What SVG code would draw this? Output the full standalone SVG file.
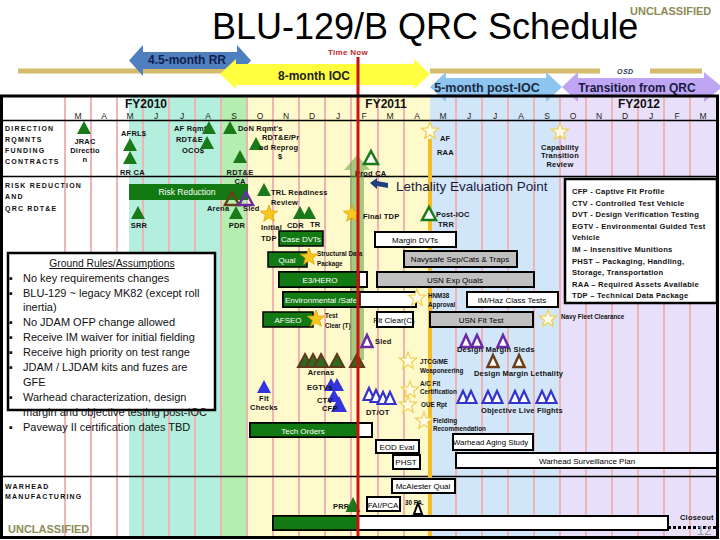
<svg xmlns="http://www.w3.org/2000/svg" width="720" height="540" viewBox="0 0 720 540">
<style>
text{font-family:"Liberation Sans",Arial,sans-serif}
.lb{font-size:7.5px;font-weight:bold;fill:#111;letter-spacing:0.2px}
.tn{font-size:6.3px;font-weight:bold;fill:#111}
.sec{font-size:7px;font-weight:bold;fill:#111;letter-spacing:1.2px}
.mo{font-size:8.5px;fill:#222;text-anchor:middle}
.fy{font-size:12px;font-weight:bold;fill:#111;text-anchor:middle}
.bt{font-size:8px;fill:#000;text-anchor:middle}
.w{fill:#fff}
.bg{fill:#137a13;stroke:#000;stroke-width:1.5}
.bw{fill:#fff;stroke:#000;stroke-width:2}
.bgy{fill:#c0c0c0;stroke:#000;stroke-width:2}
.tg{fill:#1a7a1a}
.to{fill:#fff;stroke:#1a7a1a;stroke-width:2.5}
.tp{fill:none;stroke:#6a2aa8;stroke-width:2.5}
.tpw{fill:#fff;stroke:#6a2aa8;stroke-width:2.5}
.tbn{fill:none;stroke:#6a3e1a;stroke-width:2.5}
.tbr{fill:#fff;stroke:#6a3e1a;stroke-width:2.5}
.tbl{fill:#3434dc}
.tbo{fill:#fff;stroke:#3434cc;stroke-width:2.2}
.ta{fill:#2f6a1f;stroke:#5c3a1a;stroke-width:2}
.sg{fill:#f8c81e;stroke:#e0a000;stroke-width:0.8}
.sw{fill:#fffbe8;stroke:#eed050;stroke-width:1.2}
.gr{font-size:11px;fill:#111}
.lg{font-size:7.6px;font-weight:bold;fill:#111;letter-spacing:0.25px}
.ucl{font-weight:bold;fill:#8c8c55}
</style>
<defs>
<path id="tri" d="M0,0 L7,13 L-7,13 Z"/>
<path id="trn" d="M0,0 L5.5,12 L-5.5,12 Z"/>
<path id="star" d="M0,-9 L2.2,-3.1 L8.6,-2.8 L3.6,1.2 L5.3,7.3 L0,3.8 L-5.3,7.3 L-3.6,1.2 L-8.6,-2.8 L-2.2,-3.1 Z"/>
</defs>

<rect x="0" y="0" width="720" height="540" fill="#fff"/>

<g id="backgrounds">
<rect x="129" y="96" width="93" height="441" fill="#b4eedc"/>
<rect x="222" y="96" width="26" height="441" fill="#b4eeb0"/>
<rect x="248" y="96" width="182" height="441" fill="#fffacb"/>
<rect x="430" y="96" width="130" height="441" fill="#d2e6fa"/>
<rect x="560" y="96" width="157" height="441" fill="#e8e0fa"/>
<path d="M65,96V537M91,96V537M117,96V537M143,96V537M169,96V537M195,96V537M221,96V537M247,96V537M273,96V537M299,96V537M325,96V537M351,96V537M378,96V537M404,96V537M456,96V537M482,96V537M508,96V537M534,96V537M560,96V537M586,96V537M612,96V537M638,96V537M664,96V537M690,96V537" stroke="#f0b4b4" stroke-width="2" fill="none"/>
<path d="M1.5,120.5H717.5M1.5,176.5H717.5M1.5,476.5H717.5" stroke="#000" stroke-width="1.5"/>
</g>

<g id="title">
<text x="212" y="39" font-size="36" fill="#000">BLU-129/B QRC Schedule</text>
<text x="630" y="15" font-size="11" class="ucl">UNCLASSIFIED</text>
<text x="328" y="55" font-size="8" font-weight="bold" fill="#c0282c" letter-spacing="0.3">Time Now</text>
<text x="617" y="74" font-size="7" font-weight="bold" font-style="italic" fill="#2a3a5a" letter-spacing="0.5">OSD</text>
</g>

<g id="connectors">
<path d="M18,71H225M430,71H600M650,71H702" stroke="#d4bc6c" stroke-width="5" fill="none"/>
<polygon points="129,60.5 143,45 143,52 237,52 237,45 251,60.5 237,76 237,69 143,69 143,76" fill="#4f7fbf"/>
<polygon points="220,74 236,59 236,64 414,64 414,59 430,74 414,89 414,85 236,85 236,89" fill="#ffff40"/>
<polygon points="430,87 446,72 446,78 546,78 546,72 562,87 546,102 546,97 446,97 446,102" fill="#8ec4f0"/>
<polygon points="562,87 578,72 578,78 704,78 704,72 722,87 704,102 704,97 578,97 578,102" fill="#bea6f4"/>
<text x="187" y="64" font-size="12" font-weight="bold" fill="#102050" text-anchor="middle">4.5-month RR</text>
<text x="314" y="80" font-size="12" font-weight="bold" fill="#222" text-anchor="middle">8-month IOC</text>
<text x="487" y="92" font-size="12.5" font-weight="bold" fill="#1a2a40" text-anchor="middle">5-month post-IOC</text>
<text x="637" y="92" font-size="12" font-weight="bold" fill="#1a1a40" text-anchor="middle">Transition from QRC</text>
<line x1="430" y1="139" x2="430" y2="537" stroke="#f5be28" stroke-width="4"/>
<polygon points="357,155 370,170 364,170 364,360 350,360 350,170 344,170" fill="#6aa84f" opacity="0.6"/>
<path d="M370,183 L377,178 L377,181 L388,183 L388,188 L377,186 L377,189 Z" fill="#1f3f7f"/>
<path d="M668,527.5H717" stroke="#000" stroke-width="3" stroke-dasharray="3,2"/>
</g>

<g id="header">
<text class="fy" x="146" y="108">FY2010</text>
<text class="fy" x="386" y="108">FY2011</text>
<text class="fy" x="639" y="108">FY2012</text>
<text class="mo" y="119"><tspan x="78">M</tspan><tspan x="104">A</tspan><tspan x="130">M</tspan><tspan x="156">J</tspan><tspan x="182">J</tspan><tspan x="208">A</tspan><tspan x="234">S</tspan><tspan x="260">O</tspan><tspan x="286">N</tspan><tspan x="312">D</tspan><tspan x="338">J</tspan><tspan x="364">F</tspan><tspan x="390">M</tspan><tspan x="417">A</tspan><tspan x="443">M</tspan><tspan x="469">J</tspan><tspan x="495">J</tspan><tspan x="521">A</tspan><tspan x="547">S</tspan><tspan x="573">O</tspan><tspan x="599">N</tspan><tspan x="625">D</tspan><tspan x="651">J</tspan><tspan x="677">F</tspan><tspan x="703">M</tspan></text>
</g>

<g id="row-labels">
<text class="sec" x="5" y="131">DIRECTION</text>
<text class="sec" x="5" y="142">RQMNTS</text>
<text class="sec" x="5" y="153">FUNDING</text>
<text class="sec" x="5" y="164">CONTRACTS</text>
<text class="sec" x="5" y="188">RISK REDUCTION</text>
<text class="sec" x="5" y="199">AND</text>
<text class="sec" x="5" y="211">QRC RDT&amp;E</text>
<text class="sec" x="5" y="489">WARHEAD</text>
<text class="sec" x="5" y="499">MANUFACTURING</text>
</g>

<g id="jrac">
<use href="#tri" x="84" y="121" class="tg"/>
<text class="lb" x="85" y="144" text-anchor="middle">JRAC</text>
<text class="lb" x="85" y="153" text-anchor="middle">Directio</text>
<text class="lb" x="85" y="162" text-anchor="middle">n</text>
</g>
<g id="afrl">
<text class="lb" x="121" y="136">AFRL$</text>
<use href="#tri" x="130" y="138" class="tg"/>
<use href="#tri" x="130" y="151" class="tg"/>
<text class="lb" x="120" y="175">RR CA</text>
</g>
<g id="af-rqmt">
<text class="lb" x="174" y="131">AF Rqmt'</text>
<text class="lb" x="176" y="142">RDT&amp;E</text>
<text class="lb" x="182" y="153">OCO$</text>
<use href="#tri" x="209" y="121" class="tg"/>
<use href="#tri" x="207" y="136" class="tg"/>
<use href="#tri" x="230" y="121" class="tg"/>
</g>
<g id="don-rqmt">
<text class="lb" x="238" y="131">DoN Rqmt's</text>
<use href="#tri" x="256" y="137" class="tg"/>
<text class="lb" x="262" y="140">RDT&amp;E/Pr</text>
<text class="lb" x="259" y="150">od Reprog</text>
<text class="lb" x="278" y="159">$</text>
<use href="#tri" x="240" y="150" class="tg"/>
<text class="lb" x="240" y="175" text-anchor="middle">RDT&amp;E</text>
<text class="lb" x="240" y="184" text-anchor="middle">CA</text>
</g>
<g id="prod-ca">
<use href="#tri" x="371" y="151" class="to"/>
<text class="lb" x="355" y="176">Prod CA</text>
</g>
<g id="af-raa">
<use href="#star" x="430" y="131" class="sw"/>
<text class="lb" x="440" y="141">AF</text>
<text class="lb" x="437" y="155">RAA</text>
</g>
<g id="capability-review">
<use href="#star" x="560" y="132" class="sw"/>
<text class="lb" x="560" y="150" text-anchor="middle">Capability</text>
<text class="lb" x="560" y="158" text-anchor="middle">Transition</text>
<text class="lb" x="560" y="167" text-anchor="middle">Review</text>
</g>

<g id="risk-reduction">
<rect x="129" y="184" width="119" height="16" fill="#137a13"/>
<text x="187" y="195" font-size="8.5" class="w" text-anchor="middle">Risk Reduction</text>
</g>
<g id="arena-sled">
<use href="#tri" x="232" y="192" class="tbn"/>
<use href="#tri" x="246" y="192" class="tp"/>
<text class="lb" x="207" y="211">Arena</text>
<text class="lb" x="243" y="211">Sled</text>
</g>
<g id="pdr">
<use href="#tri" x="236" y="206" class="tg"/>
<text class="lb" x="237" y="228" text-anchor="middle">PDR</text>
</g>
<g id="srr">
<use href="#tri" x="138" y="206" class="tg"/>
<text class="lb" x="139" y="228" text-anchor="middle">SRR</text>
</g>
<g id="trl">
<use href="#tri" x="264" y="183" class="tg"/>
<text class="lb" x="271" y="195">TRL Readiness</text>
<text class="lb" x="271" y="205">Review</text>
</g>
<g id="initial-tdp">
<use href="#star" x="269" y="214" class="sg"/>
<text class="lb" x="261" y="230">Initial</text>
<text class="lb" x="261" y="241">TDP</text>
</g>
<g id="cdr">
<use href="#tri" x="300" y="206" class="tg"/>
<use href="#tri" x="309" y="206" class="tg"/>
<text class="lb" x="287" y="228">CDR</text>
<text class="lb" x="310" y="227">TR</text>
</g>
<g id="final-tdp">
<use href="#star" x="352" y="214" class="sg"/>
<text class="lb" x="363" y="219">Final TDP</text>
</g>
<g id="post-ioc-trr">
<use href="#tri" x="429" y="207" class="to"/>
<text class="lb" x="436" y="217">Post-IOC</text>
<text class="lb" x="438" y="227">TRR</text>
</g>
<g id="lethality">
<text x="396" y="191" font-size="13.5" fill="#1a1a40">Lethality Evaluation Point</text>
</g>

<g id="legend">
<rect x="565" y="179" width="152" height="124" fill="#fff" stroke="#000" stroke-width="2.5"/>
<text class="lg" x="572" y="194">CFP - Captive Flt Profile</text>
<text class="lg" x="572" y="206">CTV - Controlled Test Vehicle</text>
<text class="lg" x="572" y="217">DVT - Design Verification Testing</text>
<text class="lg" x="572" y="229">EGTV - Environmental Guided Test</text>
<text class="lg" x="572" y="240">Vehicle</text>
<text class="lg" x="572" y="252">IM – Insensitive Munitions</text>
<text class="lg" x="572" y="264">PHST – Packaging, Handling,</text>
<text class="lg" x="572" y="275">Storage, Transportation</text>
<text class="lg" x="572" y="287">RAA – Required Assets Available</text>
<text class="lg" x="572" y="298">TDP – Technical Data Package</text>
</g>

<g id="ground-rules">
<rect x="8" y="253" width="207" height="157" fill="#fff" stroke="#000" stroke-width="2.5"/>
<text x="112" y="267" font-size="10.3" fill="#111" text-anchor="middle" text-decoration="underline">Ground Rules/Assumptions</text>
<text class="gr" y="282"><tspan x="9">▪</tspan><tspan x="23">No key requirements changes</tspan></text>
<text class="gr" y="297"><tspan x="9">▪</tspan><tspan x="23">BLU-129 ~ legacy MK82 (except roll</tspan></text>
<text class="gr" x="23" y="311">inertia)</text>
<text class="gr" y="326"><tspan x="9">▪</tspan><tspan x="23">No JDAM OFP change allowed</tspan></text>
<text class="gr" y="341"><tspan x="9">▪</tspan><tspan x="23">Receive IM waiver for initial fielding</tspan></text>
<text class="gr" y="356"><tspan x="9">▪</tspan><tspan x="23">Receive high priority on test range</tspan></text>
<text class="gr" y="371"><tspan x="9">▪</tspan><tspan x="23">JDAM / LJDAM kits and fuzes are</tspan></text>
<text class="gr" x="23" y="386">GFE</text>
<text class="gr" y="401"><tspan x="9">▪</tspan><tspan x="23">Warhead characterization, design</tspan></text>
<text class="gr" x="23" y="416">margin and objective testing post-IOC</text>
<text class="gr" y="431"><tspan x="9">▪</tspan><tspan x="23">Paveway II certification dates TBD</tspan></text>
</g>

<g id="case-dvts">
<rect x="279" y="231" width="44" height="15" class="bg"/>
<text class="bt w" x="301" y="242">Case DVTs</text>
</g>
<g id="margin-dvts">
<rect x="375" y="232" width="81" height="15" class="bw"/>
<text class="bt" x="415" y="243">Margin DVTs</text>
</g>
<g id="qual">
<rect x="268" y="252" width="39" height="15" class="bg"/>
<text class="bt w" x="287" y="263">Qual</text>
<use href="#star" x="309" y="257" class="sg"/>
<text class="tn" x="317" y="256">Structural Data</text>
<text class="tn" x="317" y="266">Package</text>
</g>
<g id="navysafe">
<rect x="404" y="251" width="113" height="16" class="bgy"/>
<text class="bt" x="460" y="262" font-size="7.5">Navysafe Sep/Cats &amp; Traps</text>
</g>
<g id="e3-hero">
<rect x="279" y="272" width="88" height="15" class="bw"/>
<rect x="279" y="272" width="80" height="15" class="bg"/>
<text class="bt w" x="320" y="283">E3/HERO</text>
</g>
<g id="usn-exp-quals">
<rect x="377" y="272" width="157" height="15" class="bgy"/>
<text class="bt" x="455" y="283" font-size="8.5">USN Exp Quals</text>
</g>
<g id="environmental-safe">
<rect x="283" y="292" width="133" height="15" class="bw"/>
<rect x="283" y="292" width="77" height="15" class="bg"/>
<text x="285" y="303" font-size="8" class="w">Environmental /Safe</text>
</g>
<g id="hnm38">
<use href="#star" x="417" y="298" class="sw"/>
<text class="tn" x="428" y="298">HNM38</text>
<text class="tn" x="428" y="307">Approval</text>
</g>
<g id="im-haz">
<rect x="467" y="292" width="91" height="15" class="bw"/>
<text class="bt" x="512" y="303">IM/Haz Class Tests</text>
</g>
<g id="afseo">
<rect x="263" y="312" width="50" height="15" class="bg"/>
<text class="bt w" x="288" y="323">AFSEO</text>
<use href="#star" x="316" y="319" class="sg"/>
<text class="tn" x="325" y="318">Test</text>
<text class="tn" x="325" y="328">Clear (T)</text>
</g>
<g id="flt-clear">
<rect x="377" y="312" width="36" height="15" class="bw"/>
<text class="bt" x="394" y="323">Flt Clear(C)</text>
</g>
<g id="usn-flt-test">
<rect x="430" y="312" width="103" height="15" class="bgy"/>
<text class="bt" x="481" y="323">USN Flt Test</text>
</g>
<g id="navy-fleet-clearance">
<use href="#star" x="548" y="319" class="sw"/>
<text class="tn" x="561" y="319">Navy Fleet Clearance</text>
</g>
<g id="sled">
<use href="#trn" x="367" y="335" class="tpw"/>
<text class="lb" x="375" y="344">Sled</text>
</g>
<g id="design-margin-sleds">
<use href="#trn" x="466" y="335" class="tpw"/>
<use href="#trn" x="477" y="335" class="tpw"/>
<use href="#trn" x="503" y="335" class="tpw"/>
<text class="lb" x="457" y="352">Design Margin Sleds</text>
</g>
<g id="design-margin-lethality">
<use href="#trn" x="493" y="355" class="tbr"/>
<use href="#trn" x="519" y="355" class="tbr"/>
<text class="lb" x="474" y="376">Design Margin Lethality</text>
</g>
<g id="arenas">
<use href="#tri" x="305" y="354" class="ta"/>
<use href="#tri" x="313" y="354" class="ta"/>
<use href="#tri" x="321" y="354" class="ta"/>
<use href="#tri" x="337" y="354" class="ta"/>
<use href="#tri" x="357" y="354" class="ta"/>
<text class="lb" x="321" y="375" text-anchor="middle">Arenas</text>
</g>
<g id="jtcg">
<use href="#star" x="408" y="361" class="sw"/>
<text class="tn" x="420" y="364">JTCG/ME</text>
<text class="tn" x="420" y="373">Weaponeering</text>
</g>
<g id="ac-flt-cert">
<use href="#star" x="410" y="390" class="sw"/>
<text class="tn" x="420" y="386">A/C Flt</text>
<text class="tn" x="420" y="394">Certification</text>
</g>
<g id="oue-rpt">
<use href="#star" x="408" y="405" class="sw"/>
<text class="tn" x="421" y="407">OUE Rpt</text>
</g>
<g id="fielding">
<use href="#star" x="424" y="421" class="sw"/>
<text class="tn" x="433" y="423">Fielding</text>
<text class="tn" x="433" y="431">Recommendation</text>
</g>
<g id="flt-checks">
<use href="#tri" x="264" y="380" class="tbl"/>
<text class="lb" x="264" y="401" text-anchor="middle">Flt</text>
<text class="lb" x="264" y="410" text-anchor="middle">Checks</text>
</g>
<g id="egtvs">
<use href="#tri" x="331" y="378" class="tbl"/>
<use href="#tri" x="337" y="378" class="tbl"/>
<use href="#tri" x="334" y="389" class="tbl"/>
<path d="M339,396 L347,412 L331,412 Z" class="tbl"/>
<text class="lb" x="307" y="390">EGTVs</text>
<text class="lb" x="317" y="403">CTV</text>
<text class="lb" x="322" y="411">CFP</text>
</g>
<g id="dt-ot">
<use href="#trn" x="369" y="388" class="tbo"/>
<use href="#trn" x="376" y="390" class="tbo"/>
<use href="#trn" x="383" y="392" class="tbo"/>
<use href="#trn" x="390" y="392" class="tbo"/>
<text class="lb" x="366" y="415">DT/OT</text>
</g>
<g id="objective-live-flights">
<use href="#trn" x="463" y="391" class="tbo"/>
<use href="#trn" x="471" y="391" class="tbo"/>
<use href="#trn" x="488" y="391" class="tbo"/>
<use href="#trn" x="497" y="391" class="tbo"/>
<use href="#trn" x="515" y="391" class="tbo"/>
<use href="#trn" x="524" y="391" class="tbo"/>
<use href="#trn" x="542" y="391" class="tbo"/>
<use href="#trn" x="551" y="391" class="tbo"/>
<text class="lb" x="481" y="413">Objective Live Flights</text>
</g>
<g id="tech-orders">
<rect x="250" y="423" width="122" height="14" class="bw"/>
<rect x="250" y="423" width="108" height="14" class="bg"/>
<text class="bt w" x="303" y="434">Tech Orders</text>
</g>
<g id="eod-eval">
<rect x="376" y="440" width="43" height="13" class="bw"/>
<text class="bt" x="397" y="450">EOD Eval</text>
</g>
<g id="warhead-aging">
<rect x="453" y="434" width="80" height="16" class="bw"/>
<text x="453" y="445" font-size="7.8" fill="#000">Warhead Aging Study</text>
</g>
<g id="phst">
<rect x="393" y="455" width="27" height="14" class="bw"/>
<text class="bt" x="406" y="465">PHST</text>
</g>
<g id="warhead-surveillance">
<rect x="456" y="453" width="261" height="15" class="bw"/>
<text class="bt" x="587" y="464">Warhead Surveillance Plan</text>
</g>

<g id="mcalester">
<rect x="392" y="479" width="63" height="14" class="bw"/>
<text class="bt" x="423" y="489">McAlester Qual</text>
</g>
<g id="fai-pca">
<rect x="367" y="497" width="33" height="14" class="bw"/>
<text class="bt" x="383" y="508">FAI/PCA</text>
</g>
<g id="pa30">
<text class="tn" x="405" y="505">30 PA.</text>
<path d="M418,503 L422,514 L414,514 Z" fill="#fff" stroke="#000" stroke-width="2"/>
</g>
<g id="prr">
<text class="lb" x="333" y="509">PRR</text>
<path d="M353,497 L360.5,512 L345.5,512 Z" class="tg"/>
</g>
<g id="production">
<rect x="273" y="516" width="395" height="14" class="bw"/>
<rect x="273" y="516" width="85" height="14" class="bg"/>
<text class="lb" x="680" y="519.5" font-weight="normal">Closeout</text>
</g>

<g id="time-now">
<line x1="358" y1="57" x2="358" y2="537" stroke="#cc1111" stroke-width="3"/>
</g>

<g id="frame">
<rect x="1.5" y="96" width="716" height="441.5" fill="none" stroke="#000" stroke-width="3"/>
<text x="8" y="533" font-size="11" class="ucl">UNCLASSIFIED</text>
<text x="697" y="535" font-size="13" fill="#9a9a9a">12</text>
</g>
</svg>
